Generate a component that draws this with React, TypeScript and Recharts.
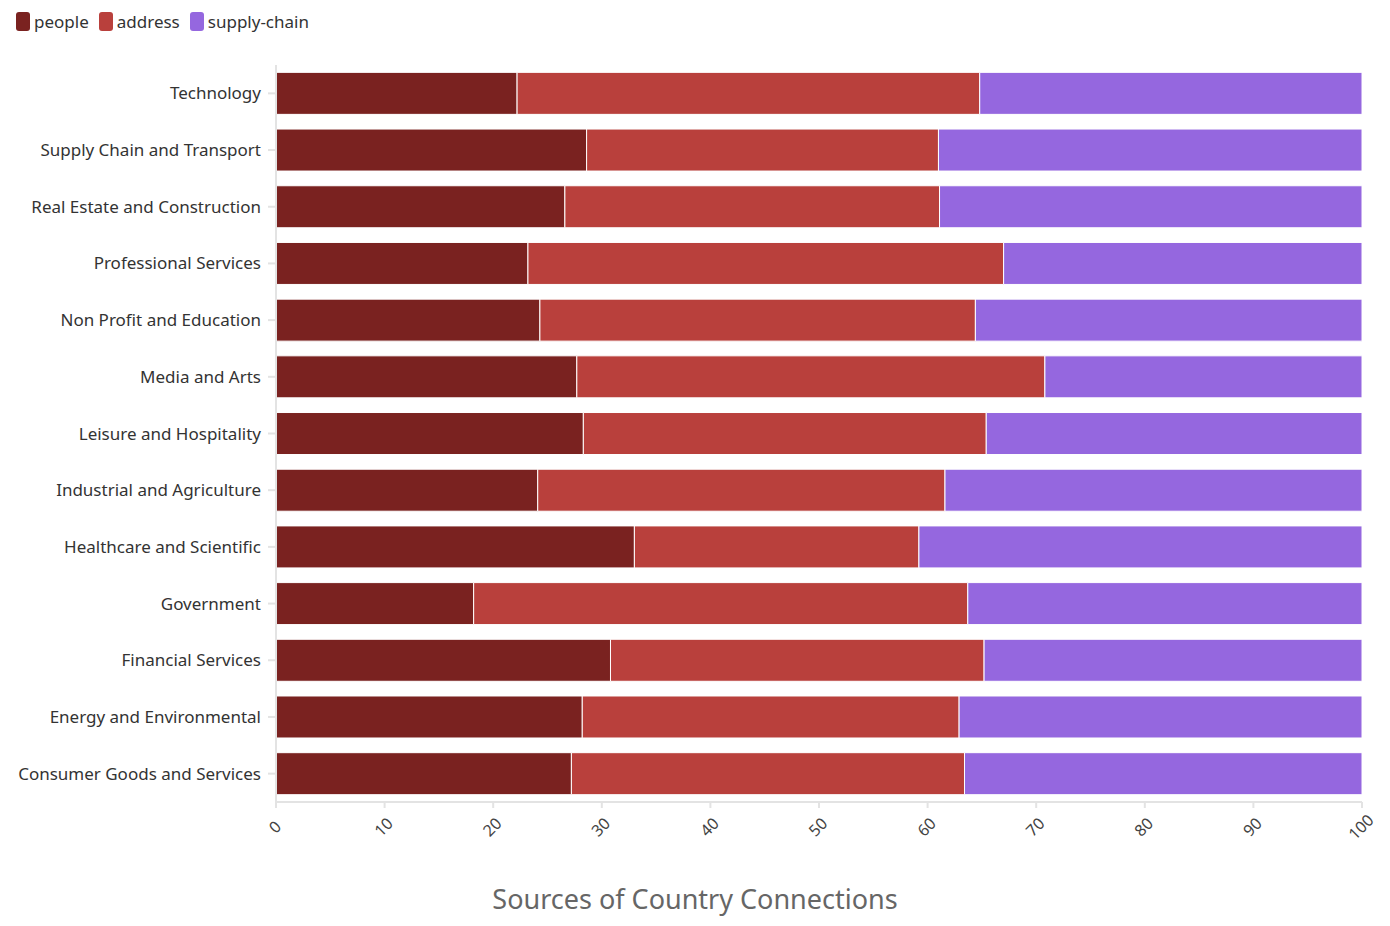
import { Bar, BarChart, XAxis, YAxis } from "recharts";

const sectors = [
  "Technology",
  "Supply Chain and Transport",
  "Real Estate and Construction",
  "Professional Services",
  "Non Profit and Education",
  "Media and Arts",
  "Leisure and Hospitality",
  "Industrial and Agriculture",
  "Healthcare and Scientific",
  "Government",
  "Financial Services",
  "Energy and Environmental",
  "Consumer Goods and Services",
];

// shares in percent
const people = [22.2, 28.6, 26.6, 23.2, 24.3, 27.7, 28.3, 24.1, 33.0, 18.2, 30.8, 28.2, 27.2];
const address = [42.6, 32.4, 34.5, 43.8, 40.1, 43.1, 37.1, 37.5, 26.2, 45.5, 34.4, 34.7, 36.2];
const supplyChain = [35.2, 39.0, 38.9, 33.0, 35.6, 29.2, 34.6, 38.4, 40.8, 36.3, 34.8, 37.1, 36.6];

const xTicks = [0, 10, 20, 30, 40, 50, 60, 70, 80, 90, 100];

const colors = {
  people: "#7a2220",
  address: "#b9403c",
  "supply-chain": "#9567df",
};

const data = sectors.map((name, i) => ({
  name,
  people: people[i],
  address: address[i],
  "supply-chain": supplyChain[i],
}));

const font = "'Source Sans Pro', 'Noto Sans', sans-serif";

const LegendBox = () => (
  <div
    style={{
      position: "absolute",
      top: 10,
      left: 16,
      display: "flex",
      gap: 10,
      fontFamily: font,
      fontSize: 17,
      color: "#333",
    }}
  >
    {Object.entries(colors).map(([k, c]) => (
      <div key={k} style={{ display: "flex", alignItems: "center", gap: 4 }}>
        <span style={{ width: 14, height: 19, background: c, borderRadius: 3, display: "inline-block" }} />
        <span>{k}</span>
      </div>
    ))}
  </div>
);

const XTick = ({ x, y, payload }: any) => (
  <text
    x={x}
    y={y + 18}
    transform={`rotate(-45 ${x} ${y + 18})`}
    textAnchor="middle"
    dominantBaseline="middle"
    fontSize={16}
    fontFamily={font}
    fill="#444"
  >
    {payload.value}
  </text>
);

export default function App() {
  return (
    <div style={{ position: "absolute", left: 0, top: 0, width: 1390, height: 926, background: "#fff" }}>
      <BarChart
        width={1390}
        height={926}
        data={data}
        layout="vertical"
        barCategoryGap="13%"
        margin={{ top: 65, right: 28, left: 0, bottom: 64 }}
      >
        <XAxis
          type="number"
          domain={[0, 100]}
          ticks={xTicks}
          interval={0}
          height={60}
          tick={<XTick />}
          stroke="#e3e3e3"
          strokeWidth={2}
          tickSize={6}
        />
        <YAxis
          type="category"
          dataKey="name"
          width={276}
          stroke="#e3e3e3"
          strokeWidth={2}
          tickSize={8}
          tickMargin={7}
          tick={{ fill: "#333", fontSize: 17, fontFamily: font }}
          interval={0}
        />
        <Bar dataKey="people" stackId="a" fill={colors.people} stroke="#fff" strokeWidth={1} isAnimationActive={false} />
        <Bar dataKey="address" stackId="a" fill={colors.address} stroke="#fff" strokeWidth={1} isAnimationActive={false} />
        <Bar dataKey="supply-chain" stackId="a" fill={colors["supply-chain"]} stroke="#fff" strokeWidth={1} isAnimationActive={false} />
      </BarChart>
      <LegendBox />
      <div
        style={{
          position: "absolute",
          top: 880,
          left: 0,
          width: 1390,
          textAlign: "center",
          fontFamily: font,
          fontSize: 27,
          color: "#666",
        }}
      >
        Sources of Country Connections
      </div>
    </div>
  );
}
